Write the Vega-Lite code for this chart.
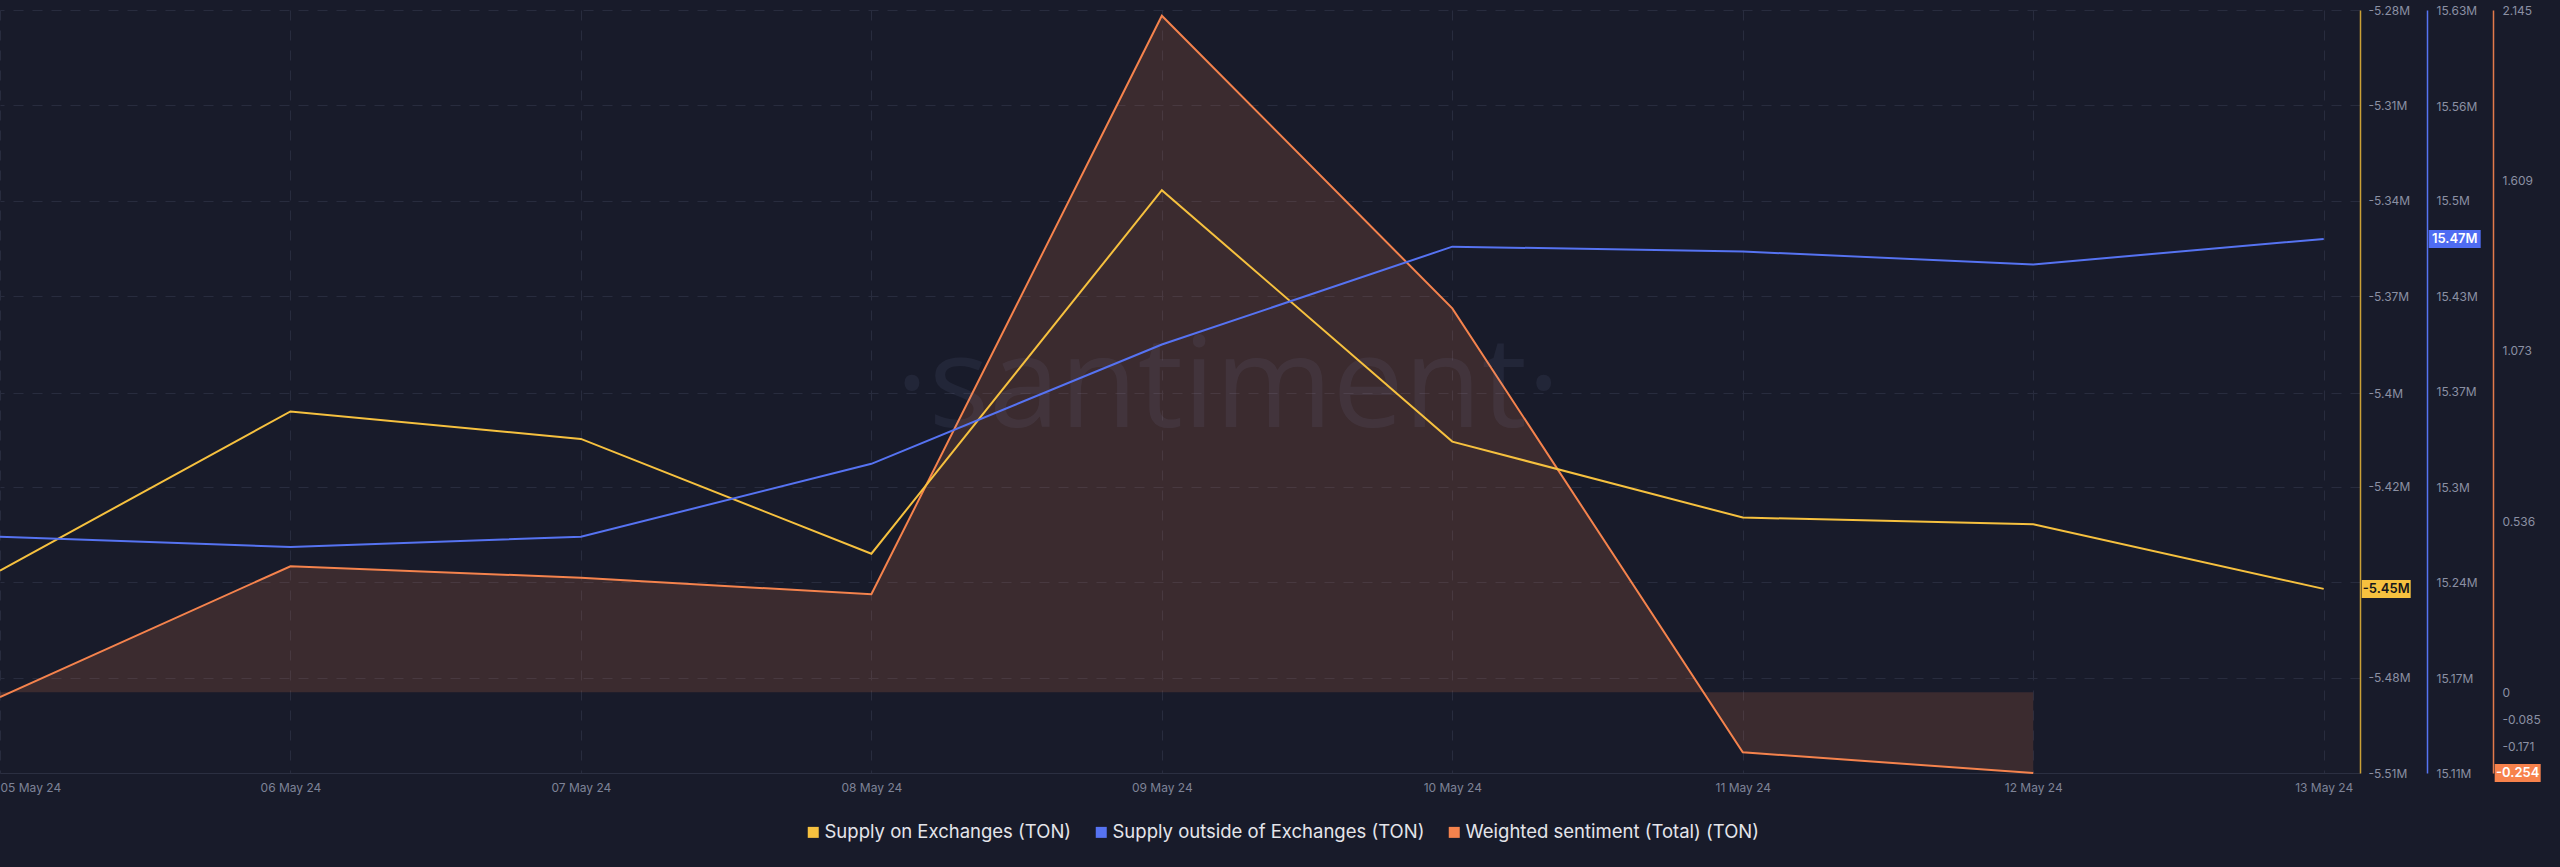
{
  "$schema": "https://vega.github.io/schema/vega-lite/v6.json",
  "width": 2360,
  "height": 763,
  "autosize": {"type": "none"},
  "padding": {"left": 0, "top": 10, "right": 200, "bottom": 94},
  "background": "#181b2a",
  "config": {
    "view": {"stroke": null},
    "font": "Inter",
    "axis": {"labelFont": "Inter", "title": null}
  },
  "datasets": {
    "onex": [
      {"date": "2024-05-05T00:00:00", "value": -5449000},
      {"date": "2024-05-06T00:00:00", "value": -5401000},
      {"date": "2024-05-07T00:00:00", "value": -5409300},
      {"date": "2024-05-08T00:00:00", "value": -5443900},
      {"date": "2024-05-09T00:00:00", "value": -5334300},
      {"date": "2024-05-10T00:00:00", "value": -5410100},
      {"date": "2024-05-11T00:00:00", "value": -5433000},
      {"date": "2024-05-12T00:00:00", "value": -5435000},
      {"date": "2024-05-13T00:00:00", "value": -5454500}
    ],
    "outside": [
      {"date": "2024-05-05T00:00:00", "value": 15271000},
      {"date": "2024-05-06T00:00:00", "value": 15264000},
      {"date": "2024-05-07T00:00:00", "value": 15271000},
      {"date": "2024-05-08T00:00:00", "value": 15320700},
      {"date": "2024-05-09T00:00:00", "value": 15402000},
      {"date": "2024-05-10T00:00:00", "value": 15468700},
      {"date": "2024-05-11T00:00:00", "value": 15465400},
      {"date": "2024-05-12T00:00:00", "value": 15456600},
      {"date": "2024-05-13T00:00:00", "value": 15474000}
    ],
    "sentiment": [
      {"date": "2024-05-05T00:00:00", "value": -0.015},
      {"date": "2024-05-06T00:00:00", "value": 0.396},
      {"date": "2024-05-07T00:00:00", "value": 0.36},
      {"date": "2024-05-08T00:00:00", "value": 0.308},
      {"date": "2024-05-09T00:00:00", "value": 2.127},
      {"date": "2024-05-10T00:00:00", "value": 1.207},
      {"date": "2024-05-11T00:00:00", "value": -0.189},
      {"date": "2024-05-12T00:00:00", "value": -0.254}
    ],
    "badge_onex": [{"date": "2024-05-13T00:00:00", "value": -5454500, "label": "-5.45M"}],
    "badge_outside": [{"date": "2024-05-13T00:00:00", "value": 15474000, "label": "15.47M"}],
    "badge_sentiment": [{"date": "2024-05-13T00:00:00", "value": -0.254, "label": "-0.254"}]
  },
  "encoding": {
    "x": {
      "field": "date",
      "type": "temporal",
      "scale": {"domain": [{"year": 2024, "month": 5, "date": 5}, {"year": 2024, "month": 5, "date": 13, "hours": 3}]},
      "axis": {
        "orient": "bottom",
        "format": "%d %b %y",
        "tickCount": {"interval": "day", "step": 1},
        "grid": true,
        "gridDash": [10, 10],
        "gridColor": "#282c3e",
        "domain": true,
        "domainColor": "#2b2f41",
        "ticks": false,
        "labelPadding": 9,
        "labelColor": "#7e8397",
        "labelFontSize": 12,
        "title": null
      }
    }
  },
  "layer": [
    {
      "encoding": {
        "y": {
          "field": "value",
          "type": "quantitative",
          "scale": {"domain": [-0.254, 2.145], "nice": false, "zero": false},
          "axis": {
            "orient": "right",
            "offset": 133,
            "values": [2.145, 1.609, 1.073, 0.536, 0, -0.085, -0.171],
            "labelExpr": "replace(format(datum.value, '.3~f'), '\u2212', '-')",
            "grid": false,
            "ticks": false,
            "domain": true,
            "domainColor": "#e27a4b",
            "domainWidth": 1.5,
            "labelPadding": 9,
            "labelColor": "#8b90a3",
            "labelFontSize": 12,
            "title": null
          }
        }
      },
      "layer": [
        {
          "data": {"name": "sentiment"},
          "mark": {"type": "area", "color": "#f5834d", "opacity": 0.16},
          "encoding": {"y2": {"datum": 0}}
        },
        {
          "data": {"name": "sentiment"},
          "mark": {"type": "rule", "color": "#f5834d", "strokeWidth": 1.5},
          "encoding": {
            "x": {"aggregate": "min", "field": "date", "type": "temporal"},
            "x2": {"aggregate": "max", "field": "date"},
            "y": {"datum": 0, "type": "quantitative"}
          }
        },
        {
          "data": {"name": "sentiment"},
          "mark": {"type": "line", "strokeWidth": 2},
          "encoding": {
            "color": {"datum": "Weighted sentiment (Total) (TON)", "type": "nominal"}
          }
        },
        {
          "data": {"name": "badge_sentiment"},
          "mark": {"type": "point", "filled": true, "opacity": 1, "color": "#f7824c", "size": 2116, "shape": "M-1,-0.39L1,-0.39L1,0.39L-1,0.39Z", "xOffset": 194}
        },
        {
          "data": {"name": "badge_sentiment"},
          "mark": {"type": "text", "color": "#ffffff", "fontSize": 13, "fontWeight": 600, "dx": 194, "align": "center", "baseline": "middle"},
          "encoding": {"text": {"field": "label"}}
        }
      ]
    },
    {
      "encoding": {
        "y": {
          "field": "value",
          "type": "quantitative",
          "scale": {"domain": [-5510000, -5280000], "nice": false, "zero": false},
          "axis": {
            "orient": "right",
            "offset": 0,
            "values": [-5280000, -5308750, -5337500, -5366250, -5395500, -5423750, -5452500, -5481250, -5510000],
            "labelExpr": "datum.value == -5452500 ? '' : replace(format(datum.value / 1000000, '.2~f'), '\u2212', '-') + 'M'",
            "grid": true,
            "gridDash": [10, 9],
            "gridColor": "#282c3e",
            "ticks": false,
            "domain": true,
            "domainColor": "#c9a036",
            "domainWidth": 1.5,
            "labelPadding": 8,
            "labelColor": "#8b90a3",
            "labelFontSize": 12,
            "title": null
          }
        }
      },
      "layer": [
        {
          "data": {"name": "onex"},
          "transform": [{"filter": "datum.value > -5340000"}],
          "mark": {"type": "text", "font": "Open Sans", "fontSize": 127, "color": "#9aa4d8", "opacity": 0.08, "align": "center", "baseline": "alphabetic", "dx": 66},
          "encoding": {
            "y": {"datum": -5405700, "type": "quantitative"},
            "text": {"value": "·santiment·"}
          }
        },
        {
          "data": {"name": "onex"},
          "mark": {"type": "line", "strokeWidth": 2},
          "encoding": {
            "color": {
              "datum": "Supply on Exchanges (TON)",
              "type": "nominal",
              "scale": {
                "domain": ["Supply on Exchanges (TON)", "Supply outside of Exchanges (TON)", "Weighted sentiment (Total) (TON)"],
                "range": ["#f6c13f", "#5673f2", "#f5834d"]
              },
              "legend": {
                "orient": "none",
                "legendX": 804,
                "legendY": 813,
                "direction": "horizontal",
                "title": null,
                "symbolType": "square",
                "symbolSize": 121,
                "symbolStrokeWidth": 0,
                "labelFontSize": 18.5,
                "labelColor": "#e4e5ea",
                "labelFont": "Inter",
                "labelLimit": 600,
                "labelOffset": 2,
                "columnPadding": 20,
                "encode": {
                  "symbols": {"update": {"fill": {"scale": "color", "field": "value"}, "opacity": {"value": 1}}}
                }
              }
            }
          }
        },
        {
          "data": {"name": "badge_onex"},
          "mark": {"type": "point", "filled": true, "opacity": 1, "color": "#f6c13f", "size": 2401, "shape": "M-1,-0.367L1,-0.367L1,0.367L-1,0.367Z", "xOffset": 62.5}
        },
        {
          "data": {"name": "badge_onex"},
          "mark": {"type": "text", "color": "#15161c", "fontSize": 13, "fontWeight": 600, "dx": 62.5, "align": "center", "baseline": "middle"},
          "encoding": {"text": {"field": "label"}}
        }
      ]
    },
    {
      "encoding": {
        "y": {
          "field": "value",
          "type": "quantitative",
          "scale": {"domain": [15110000, 15630000], "nice": false, "zero": false},
          "axis": {
            "orient": "right",
            "offset": 67,
            "values": [15110000, 15174500, 15240000, 15304500, 15370000, 15434500, 15500000, 15564500, 15630000],
            "labelExpr": "replace(format(datum.value / 1000000, '.2~f'), '\u2212', '-') + 'M'",
            "grid": false,
            "ticks": false,
            "domain": true,
            "domainColor": "#5673f2",
            "domainWidth": 1.5,
            "labelPadding": 9,
            "labelColor": "#8b90a3",
            "labelFontSize": 12,
            "title": null
          }
        }
      },
      "layer": [
        {
          "data": {"name": "outside"},
          "mark": {"type": "line", "strokeWidth": 2},
          "encoding": {
            "color": {"datum": "Supply outside of Exchanges (TON)", "type": "nominal"}
          }
        },
        {
          "data": {"name": "badge_outside"},
          "mark": {"type": "point", "filled": true, "opacity": 1, "color": "#4f6cf2", "size": 2704, "shape": "M-1,-0.346L1,-0.346L1,0.346L-1,0.346Z", "xOffset": 131}
        },
        {
          "data": {"name": "badge_outside"},
          "mark": {"type": "text", "color": "#ffffff", "fontSize": 13, "fontWeight": 600, "dx": 131, "align": "center", "baseline": "middle"},
          "encoding": {"text": {"field": "label"}}
        }
      ]
    }
  ],
  "resolve": {"scale": {"y": "independent"}}
}
